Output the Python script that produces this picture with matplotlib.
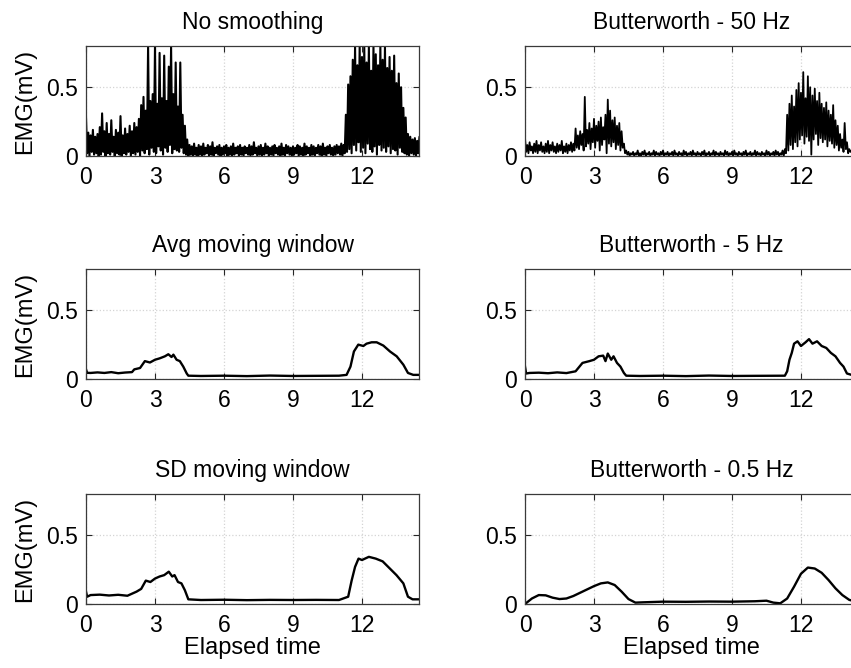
import numpy as np
import matplotlib
matplotlib.use("Agg")
import matplotlib.pyplot as plt

plt.rcParams["font.family"] = ["Liberation Sans", "DejaVu Sans"]

# raw EMG, read as peaks (hi) and troughs (lo) every 0.1 s
raw_hi = [0.28, 0.17, 0.15, 0.19, 0.14, 0.16, 0.21, 0.31, 0.18, 0.24,
          0.16, 0.26, 0.14, 0.19, 0.17, 0.29, 0.15, 0.20, 0.16, 0.22,
          0.18, 0.24, 0.21, 0.27, 0.37, 0.43, 0.33, 0.80, 0.40, 0.45,
          0.80, 0.38, 0.75, 0.42, 0.73, 0.40, 0.65, 0.80, 0.45, 0.68,
          0.36, 0.68, 0.30, 0.22, 0.12, 0.08, 0.07, 0.09, 0.06, 0.08,
          0.07, 0.09, 0.06, 0.08, 0.07, 0.10, 0.06, 0.07, 0.08, 0.06,
          0.07, 0.08, 0.06, 0.07, 0.09, 0.06, 0.07, 0.08, 0.06, 0.07,
          0.06, 0.08, 0.07, 0.10, 0.06, 0.07, 0.08, 0.06, 0.09, 0.07,
          0.06, 0.07, 0.08, 0.06, 0.07, 0.09, 0.06, 0.08, 0.07, 0.06,
          0.07, 0.06, 0.08, 0.07, 0.06, 0.09, 0.07, 0.06, 0.08, 0.07,
          0.06, 0.08, 0.07, 0.09, 0.06, 0.07, 0.08, 0.06, 0.07, 0.08,
          0.07, 0.09, 0.08, 0.30, 0.52, 0.58, 0.70, 0.80, 0.66, 0.80,
          0.72, 0.80, 0.68, 0.80, 0.62, 0.80, 0.74, 0.66, 0.80, 0.70,
          0.80, 0.64, 0.72, 0.62, 0.73, 0.53, 0.60, 0.50, 0.35, 0.28,
          0.16, 0.14, 0.12, 0.13, 0.11, 0.14]
raw_lo = [0.02, 0.00, 0.03, 0.01, 0.02, 0.00, 0.01, 0.03, 0.00, 0.02,
          0.01, 0.03, 0.00, 0.02, 0.01, 0.00, 0.02, 0.01, 0.03, 0.00,
          0.02, 0.01, 0.03, 0.00, 0.04, 0.02, 0.05, 0.01, 0.06, 0.03,
          0.02, 0.07, 0.04, 0.01, 0.06, 0.03, 0.08, 0.02, 0.05, 0.04,
          0.03, 0.06, 0.02, 0.01, 0.00, 0.01, 0.00, 0.01, 0.00, 0.01,
          0.00, 0.01, 0.02, 0.00, 0.01, 0.00, 0.02, 0.01, 0.00, 0.01,
          0.02, 0.00, 0.01, 0.00, 0.01, 0.02, 0.00, 0.01, 0.00, 0.02,
          0.01, 0.00, 0.01, 0.02, 0.00, 0.01, 0.00, 0.01, 0.02, 0.00,
          0.01, 0.00, 0.02, 0.01, 0.00, 0.01, 0.00, 0.02, 0.01, 0.00,
          0.01, 0.02, 0.00, 0.01, 0.00, 0.01, 0.02, 0.00, 0.01, 0.00,
          0.02, 0.01, 0.00, 0.01, 0.00, 0.02, 0.01, 0.00, 0.01, 0.02,
          0.01, 0.00, 0.02, 0.03, 0.05, 0.02, 0.08, 0.04, 0.10, 0.03,
          0.06, 0.02, 0.09, 0.05, 0.03, 0.07, 0.01, 0.08, 0.04, 0.06,
          0.03, 0.07, 0.02, 0.05, 0.04, 0.01, 0.06, 0.03, 0.02, 0.01,
          0.00, 0.02, 0.01, 0.00, 0.02, 0.01]

# butterworth 50 Hz, same layout
bw50_hi = [0.13, 0.08, 0.10, 0.07, 0.09, 0.11, 0.08, 0.10, 0.07, 0.09,
           0.11, 0.08, 0.10, 0.07, 0.09, 0.08, 0.11, 0.07, 0.09, 0.08,
           0.10, 0.09, 0.20, 0.15, 0.18, 0.16, 0.43, 0.19, 0.24, 0.20,
           0.27, 0.22, 0.25, 0.28, 0.21, 0.30, 0.41, 0.33, 0.26, 0.28,
           0.22, 0.24, 0.18, 0.09, 0.04, 0.03, 0.02, 0.03, 0.02, 0.04,
           0.02, 0.03, 0.04, 0.02, 0.03, 0.02, 0.04, 0.03, 0.02, 0.03,
           0.04, 0.02, 0.03, 0.02, 0.03, 0.04, 0.02, 0.03, 0.02, 0.04,
           0.03, 0.02, 0.03, 0.04, 0.02, 0.03, 0.02, 0.03, 0.04, 0.02,
           0.03, 0.02, 0.04, 0.03, 0.02, 0.03, 0.02, 0.04, 0.03, 0.02,
           0.03, 0.04, 0.02, 0.03, 0.02, 0.03, 0.04, 0.02, 0.03, 0.02,
           0.04, 0.03, 0.02, 0.03, 0.02, 0.04, 0.03, 0.02, 0.03, 0.04,
           0.03, 0.02, 0.04, 0.05, 0.30, 0.38, 0.44, 0.36, 0.48, 0.53,
           0.46, 0.61, 0.42, 0.58, 0.50, 0.44, 0.49, 0.40, 0.46, 0.38,
           0.35, 0.39, 0.33, 0.30, 0.37, 0.26, 0.22, 0.16, 0.12, 0.24,
           0.10, 0.05, 0.04, 0.03, 0.04, 0.03]
bw50_lo = [0.03, 0.02, 0.04, 0.02, 0.03, 0.02, 0.04, 0.03, 0.02, 0.03,
           0.02, 0.04, 0.03, 0.02, 0.03, 0.04, 0.02, 0.03, 0.02, 0.04,
           0.03, 0.04, 0.06, 0.05, 0.08, 0.04, 0.07, 0.09, 0.05, 0.10,
           0.06, 0.11, 0.04, 0.08, 0.12, 0.02, 0.09, 0.07, 0.10, 0.05,
           0.08, 0.04, 0.06, 0.02, 0.01, 0.00, 0.01, 0.00, 0.01, 0.00,
           0.00, 0.01, 0.00, 0.01, 0.00, 0.01, 0.00, 0.01, 0.00, 0.01,
           0.00, 0.01, 0.00, 0.01, 0.00, 0.01, 0.00, 0.01, 0.00, 0.01,
           0.00, 0.01, 0.00, 0.01, 0.00, 0.01, 0.00, 0.01, 0.00, 0.01,
           0.00, 0.01, 0.00, 0.01, 0.00, 0.01, 0.00, 0.01, 0.00, 0.01,
           0.00, 0.01, 0.00, 0.01, 0.00, 0.01, 0.00, 0.01, 0.00, 0.01,
           0.00, 0.01, 0.00, 0.01, 0.00, 0.01, 0.00, 0.01, 0.00, 0.01,
           0.00, 0.01, 0.00, 0.02, 0.04, 0.08, 0.05, 0.10, 0.07, 0.12,
           0.15, 0.09, 0.14, 0.11, 0.01, 0.12, 0.16, 0.08, 0.13, 0.10,
           0.12, 0.07, 0.11, 0.09, 0.06, 0.08, 0.04, 0.06, 0.03, 0.05,
           0.02, 0.03, 0.02, 0.01, 0.02, 0.01]

avg_t = [0, 0.05, 0.2, 0.5, 0.8, 1.1, 1.4, 1.7, 2.0, 2.1, 2.35, 2.56, 2.78,
         3.0, 3.2, 3.43, 3.58, 3.72, 3.8, 3.94, 4.08, 4.23, 4.38, 4.45, 5.0,
         6.0, 7.0, 8.0, 9.0, 10.0, 11.0, 11.33, 11.5, 11.65, 11.84, 12.06,
         12.2, 12.42, 12.64, 12.93, 13.22, 13.51, 13.8, 14.0, 14.23, 14.48]
avg_v = [0.07, 0.045, 0.044, 0.048, 0.044, 0.05, 0.042, 0.047, 0.05, 0.07,
         0.08, 0.13, 0.12, 0.14, 0.15, 0.165, 0.18, 0.16, 0.177, 0.14, 0.13,
         0.09, 0.04, 0.024, 0.022, 0.024, 0.021, 0.025, 0.022, 0.023, 0.024,
         0.03, 0.09, 0.2, 0.25, 0.24, 0.257, 0.267, 0.267, 0.243, 0.2, 0.165,
         0.104, 0.044, 0.03, 0.03]

bw5_t = [0, 0.05, 0.2, 0.6, 1.0, 1.4, 1.8, 2.2, 2.5, 2.8, 3.0, 3.2, 3.4,
         3.5, 3.6, 3.75, 3.85, 4.0, 4.15, 4.3, 4.4, 5.0, 6.0, 7.0, 8.0, 9.0,
         10.0, 11.3, 11.4, 11.5, 11.6, 11.7, 11.85, 12.0, 12.2, 12.35, 12.5,
         12.7, 12.9, 13.1, 13.3, 13.5, 13.7, 13.85, 14.0, 14.2, 14.48]
bw5_v = [0.09, 0.04, 0.044, 0.046, 0.042, 0.048, 0.043, 0.056, 0.117, 0.13,
         0.14, 0.165, 0.17, 0.13, 0.185, 0.14, 0.165, 0.117, 0.09, 0.044,
         0.024, 0.022, 0.024, 0.021, 0.025, 0.022, 0.023, 0.024, 0.056, 0.14,
         0.19, 0.257, 0.274, 0.24, 0.267, 0.29, 0.257, 0.274, 0.24, 0.226,
         0.19, 0.165, 0.117, 0.09, 0.04, 0.03, 0.03]

sd_t = [0, 0.05, 0.2, 0.6, 1.0, 1.4, 1.8, 2.2, 2.4, 2.6, 2.8, 3.0, 3.2,
        3.4, 3.6, 3.75, 3.85, 4.0, 4.15, 4.3, 4.45, 5.0, 6.0, 7.0, 8.0, 9.0,
        10.0, 11.0, 11.4, 11.55, 11.7, 11.85, 12.0, 12.3, 12.6, 12.9, 13.2,
        13.5, 13.8, 14.0, 14.2, 14.48]
sd_v = [0.09, 0.053, 0.065, 0.068, 0.062, 0.067, 0.06, 0.09, 0.11, 0.17,
        0.16, 0.185, 0.2, 0.21, 0.235, 0.2, 0.21, 0.16, 0.15, 0.10, 0.034,
        0.029, 0.031, 0.028, 0.030, 0.029, 0.030, 0.029, 0.053, 0.17, 0.27,
        0.33, 0.32, 0.343, 0.33, 0.31, 0.26, 0.21, 0.15, 0.053, 0.034, 0.034]

bw05_t = [0, 0.3, 0.6, 0.9, 1.2, 1.5, 1.8, 2.1, 2.4, 2.7, 3.0, 3.3, 3.6,
          3.9, 4.2, 4.5, 4.8, 5.1, 6.0, 7.0, 8.0, 9.0, 10.0, 10.5, 10.8,
          11.1, 11.4, 11.7, 12.0, 12.3, 12.6, 12.9, 13.2, 13.5, 13.8, 14.1,
          14.4]
bw05_v = [0.0, 0.04, 0.065, 0.063, 0.046, 0.036, 0.04, 0.058, 0.082, 0.106,
          0.13, 0.15, 0.157, 0.138, 0.09, 0.036, 0.01, 0.012, 0.017, 0.016,
          0.018, 0.017, 0.02, 0.024, 0.01, 0.005, 0.04, 0.126, 0.22, 0.265,
          0.258, 0.227, 0.174, 0.114, 0.065, 0.03, 0.017]

titles = ["No smoothing", "Butterworth - 50 Hz", "Avg moving window",
          "Butterworth - 5 Hz", "SD moving window", "Butterworth - 0.5 Hz"]


def zigzag(hi, lo):
    y = np.empty(2 * len(hi))
    y[0::2] = hi
    y[1::2] = lo
    t = np.arange(len(y)) * 0.05
    return t, y


def style(ax, title, left, bottom):
    ax.set_xlim(0, 14.48)
    ax.set_ylim(0, 0.8)
    ax.set_xticks([0, 3, 6, 9, 12])
    ax.set_yticks([0, 0.5])
    ax.set_yticklabels(["0", "0.5"])
    ax.grid(True, color="#d4d4d4", linestyle=":", linewidth=0.9)
    ax.tick_params(direction="in", length=4, width=0.8, top=True, right=True,
                   labelsize=16.5, pad=6, colors="#262626", labelcolor="black")
    ax.tick_params(axis="x", pad=7)
    for s in ax.spines.values():
        s.set_color("#3a3a3a")
        s.set_linewidth(0.9)
    ax.set_title(title, fontsize=16.5, pad=12)
    if left:
        ax.set_ylabel("EMG(mV)", fontsize=17, labelpad=7)
    if bottom:
        ax.set_xlabel("Elapsed time", fontsize=17, labelpad=0)


def main():
    fig = plt.figure(figsize=(8.51, 6.68), dpi=100)
    w = 333 / 851
    h = 110 / 668
    xs = [86 / 851, 525 / 851]
    ys = [1 - 156 / 668, 1 - 379 / 668, 1 - 604 / 668]

    axs = []
    for r in range(3):
        for c in range(2):
            ax = fig.add_axes([xs[c], ys[r], w, h])
            axs.append(ax)

    t, y = zigzag(raw_hi, raw_lo)
    axs[0].plot(t, y, color="k", linewidth=1.5)
    t, y = zigzag(bw50_hi, bw50_lo)
    axs[1].plot(t, y, color="k", linewidth=1.3)
    axs[2].plot(avg_t, avg_v, color="k", linewidth=1.7)
    axs[3].plot(bw5_t, bw5_v, color="k", linewidth=1.7)
    axs[4].plot(sd_t, sd_v, color="k", linewidth=1.7)
    axs[5].plot(bw05_t, bw05_v, color="k", linewidth=1.7)

    for i, ax in enumerate(axs):
        style(ax, titles[i], i % 2 == 0, i >= 4)

    fig.savefig("out.png", dpi=100)


if __name__ == "__main__":
    main()
